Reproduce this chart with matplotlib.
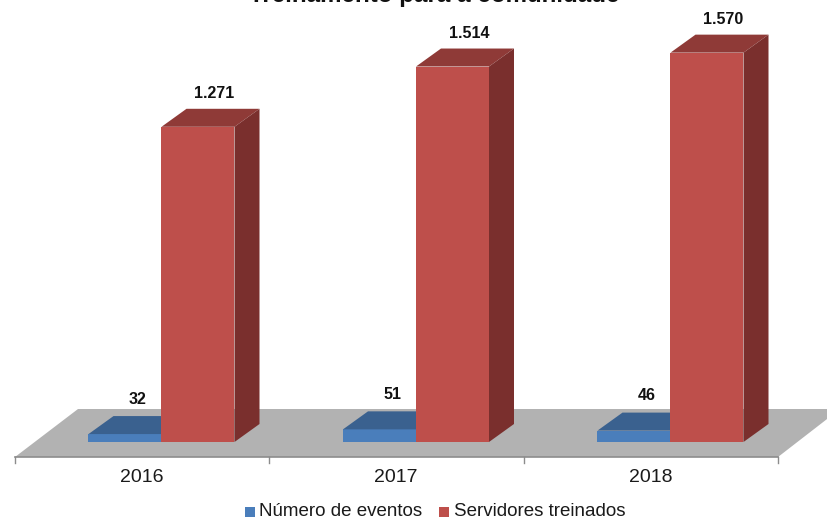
#!/usr/bin/env python3

import matplotlib
matplotlib.use('Agg')
import matplotlib.pyplot as plt
from matplotlib.patches import Polygon, Rectangle

plt.rcParams['font.family'] = ['Liberation Sans', 'DejaVu Sans']

years = ['2016', '2017', '2018']
eventos = [32, 51, 46]
servidores = [1271, 1514, 1570]
eventos_labels = ['32', '51', '46']
servidores_labels = ['1.271', '1.514', '1.570']
series_names = ['Número de eventos', 'Servidores treinados']
title = 'Treinamento para a comunidade'

W, H = 828, 521
# one category = 254.5 px, one unit of value = 0.248 px
xs = 254.5
ys = 0.248
x0 = 161.5   # px of boundary between the two bars, first category
y0 = 442     # px of the value 0
bar_w = 73 / xs
dx = 25 / xs
dy = 18 / ys

fig = plt.figure(figsize=(W / 100, H / 100), dpi=100)
ax = fig.add_axes([0, 0, 1, 1])
ax.set_xlim(-x0 / xs, (W - x0) / xs)
ax.set_ylim(-(H - y0) / ys, y0 / ys)
ax.axis('off')


def px(x):
    return (x - x0) / xs


def py(y):
    return (y0 - y) / ys


def bar3d(x, v, front, top, side):
    ax.bar(x, v, bar_w, align='edge', color=front, linewidth=0, zorder=3)
    ax.add_patch(Polygon([(x, v), (x + bar_w, v), (x + bar_w + dx, v + dy), (x + dx, v + dy)],
                         color=top, linewidth=0, zorder=3))
    ax.add_patch(Polygon([(x + bar_w, 0), (x + bar_w + dx, dy), (x + bar_w + dx, v + dy), (x + bar_w, v)],
                         color=side, linewidth=0, zorder=3))


# floor
ax.add_patch(Polygon([(px(15), py(457)), (px(778), py(457)), (px(840), py(409)), (px(78), py(409))],
                     color='#b2b2b2', linewidth=0, zorder=1))
ax.plot([px(15), px(778)], [py(457), py(457)], color='#8c8c8c', lw=1.2, zorder=2)
for i in range(4):
    xt = px(15) + i * 1.0
    ax.plot([xt, xt], [py(457), py(463)], color='#8c8c8c', lw=1, zorder=2)

for i in range(3):
    # blue first, red goes over its side
    bar3d(i - bar_w, eventos[i], '#4a7ebb', '#3a618f', '#2f5078')
    bar3d(i, servidores[i], '#be4f4b', '#8f3a37', '#7a2f2d')
    ax.text(i - bar_w / 2 + 13 / xs, eventos[i] + 35 / ys, eventos_labels[i], ha='center', va='center',
            fontsize=11.5, fontweight='bold', color='#111111')
    ax.text(i + bar_w / 2 + 16.5 / xs, servidores[i] + 33 / ys, servidores_labels[i], ha='center', va='center',
            fontsize=11.5, fontweight='bold', color='#111111')
    ax.text(i - 20 / xs, py(478), years[i], ha='center', va='center', fontsize=14, color='#1a1a1a')

# title is cut off by the top of the image
ax.text(px(434), py(2), title, ha='center', va='baseline', fontsize=17.4, fontweight='bold', color='#111111')

# legend
ax.add_patch(Rectangle((px(245), py(517)), 10 / xs, 10 / ys, color='#4a7ebb', linewidth=0))
ax.text(px(259), py(512), series_names[0], ha='left', va='center', fontsize=13.5, color='#1a1a1a')
ax.add_patch(Rectangle((px(439), py(517)), 10 / xs, 10 / ys, color='#be4f4b', linewidth=0))
ax.text(px(454), py(512), series_names[1], ha='left', va='center', fontsize=13.5, color='#1a1a1a')

fig.savefig('out.png', dpi=100)
